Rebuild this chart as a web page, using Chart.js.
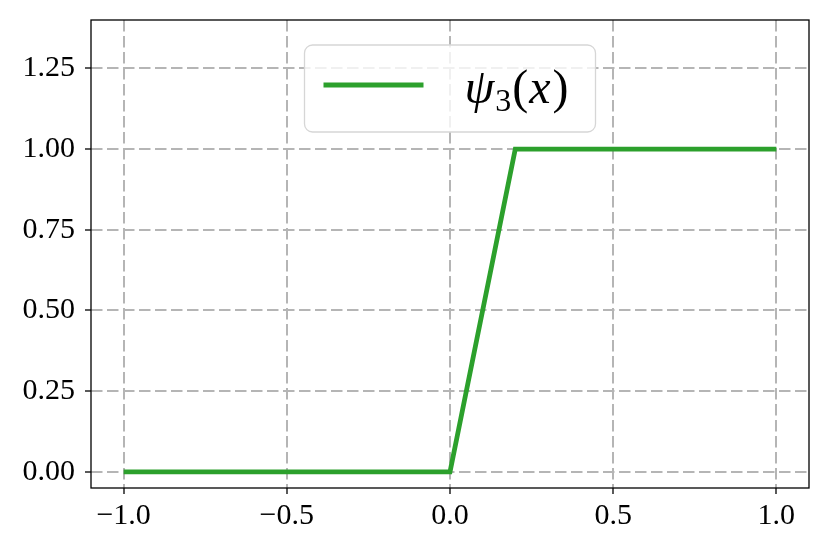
<!DOCTYPE html>
<html>
<head>
<meta charset="utf-8">
<script src="https://cdn.jsdelivr.net/npm/chart.js@4/dist/chart.umd.min.js"></script>
<style>
  html, body { margin: 0; padding: 0; background: #fff; }
  #wrap { width: 829px; height: 553px; }
</style>
</head>
<body>
<div id="wrap"><canvas id="chartPsi"></canvas></div>
<script>
// psi_3(x) piecewise linear ramp
var xValues = [-1.0, 0.0, 0.2, 1.0];
var yValues = [0.0, 0.0, 1.0, 1.0];
var xTicks = [-1.0, -0.5, 0.0, 0.5, 1.0];
var yTicks = [0.0, 0.25, 0.5, 0.75, 1.0, 1.25];
var xRange = [-1.1, 1.1];
var yRange = [-0.05, 1.4];

var lineColor = "#2ca02c";
var gridColor = "#b5b5b5";
var serif = "'Liberation Serif', serif";

function fmtMinus(v, digits) {
  var s = Math.abs(v).toFixed(digits);
  return (v < -1e-9 ? "\u2212" : "") + s;
}

// frame around the plot area plus the matplotlib-like legend
var framePlugin = {
  id: "frame",
  afterDraw: function (chart) {
    var ctx = chart.ctx, a = chart.chartArea;
    ctx.save();
    ctx.strokeStyle = "#000";
    ctx.lineWidth = 1.3;
    ctx.strokeRect(a.left, a.top, a.right - a.left, a.bottom - a.top);

    // legend box, upper center
    var w = 291, h = 87;
    var lx = (a.left + a.right) / 2 - w / 2;
    var ly = a.top + 25;
    ctx.beginPath();
    ctx.roundRect(lx, ly, w, h, 8);
    ctx.fillStyle = "rgba(255,255,255,0.8)";
    ctx.fill();
    ctx.strokeStyle = "#d6d6d6";
    ctx.lineWidth = 1.3;
    ctx.stroke();

    ctx.beginPath();
    ctx.moveTo(lx + 19, ly + 40);
    ctx.lineTo(lx + 119, ly + 40);
    ctx.strokeStyle = lineColor;
    ctx.lineWidth = 4.8;
    ctx.stroke();

    var tx = lx + 160, base = ly + 58;
    ctx.fillStyle = "#000";
    ctx.textBaseline = "alphabetic";
    ctx.textAlign = "left";
    ctx.font = "italic 48px " + serif;
    ctx.fillText("\u03c8", tx, base);
    tx += ctx.measureText("\u03c8").width + 1;
    ctx.font = "32px " + serif;
    ctx.fillText("3", tx, base + 8);
    tx += ctx.measureText("3").width + 1;
    ctx.font = "48px " + serif;
    ctx.fillText("(", tx, base);
    tx += ctx.measureText("(").width + 1;
    ctx.font = "italic 48px " + serif;
    ctx.fillText("x", tx, base);
    tx += ctx.measureText("x").width + 2;
    ctx.font = "48px " + serif;
    ctx.fillText(")", tx, base);
    ctx.restore();
  }
};

var points = xValues.map(function (x, i) { return { x: x, y: yValues[i] }; });

var ctx1 = document.getElementById("chartPsi").getContext("2d");
new Chart(ctx1, {
  type: "line",
  data: {
    datasets: [{
      label: "psi_3(x)",
      data: points,
      borderColor: lineColor,
      backgroundColor: "transparent",
      borderWidth: 4.8,
      pointRadius: 0,
      tension: 0,
      borderCapStyle: "butt"
    }]
  },
  options: {
    responsive: true,
    maintainAspectRatio: false,
    animation: false,
    layout: { padding: { top: 20, right: 20, left: 0, bottom: 0 } },
    plugins: {
      legend: { display: false },
      tooltip: { enabled: false }
    },
    scales: {
      x: {
        type: "linear",
        min: xRange[0],
        max: xRange[1],
        afterBuildTicks: function (scale) {
          scale.ticks = xTicks.map(function (v) { return { value: v }; });
        },
        afterFit: function (scale) {
          scale.height = 65;
          scale.paddingLeft = 0;
          scale.paddingRight = 0;
        },
        border: { display: false, dash: [11.5, 4.5] },
        grid: {
          color: gridColor,
          lineWidth: 2,
          drawTicks: true,
          tickLength: 6,
          tickColor: "#000",
          tickWidth: 1.3,
          tickBorderDash: []
        },
        ticks: {
          color: "#000",
          padding: 4,
          maxRotation: 0,
          autoSkip: false,
          font: { family: serif, size: 30 },
          callback: function (v) { return fmtMinus(v, 1); }
        }
      },
      y: {
        min: yRange[0],
        max: yRange[1],
        afterBuildTicks: function (scale) {
          scale.ticks = yTicks.map(function (v) { return { value: v }; });
        },
        afterFit: function (scale) {
          scale.width = 91;
          scale.paddingTop = 0;
          scale.paddingBottom = 0;
        },
        border: { display: false, dash: [11.5, 4.5] },
        grid: {
          color: gridColor,
          lineWidth: 2,
          drawTicks: true,
          tickLength: 6,
          tickColor: "#000",
          tickWidth: 1.3,
          tickBorderDash: []
        },
        ticks: {
          color: "#000",
          padding: 10,
          autoSkip: false,
          font: { family: serif, size: 30 },
          callback: function (v) { return fmtMinus(v, 2); }
        }
      }
    }
  },
  plugins: [framePlugin]
});
</script>
</body>
</html>
